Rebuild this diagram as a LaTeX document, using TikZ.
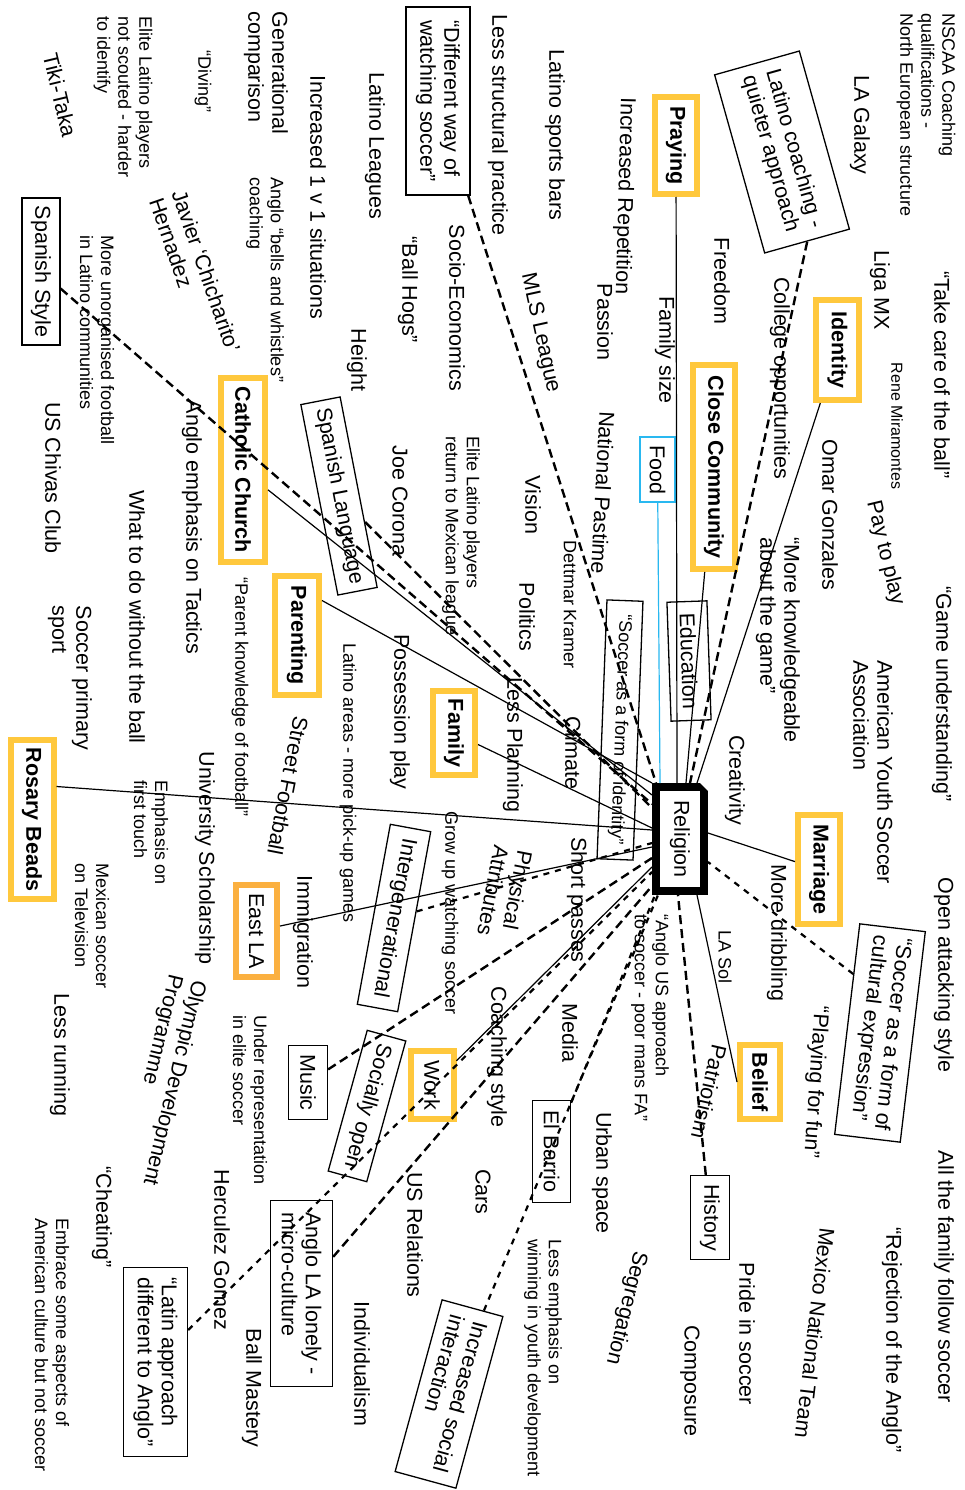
\documentclass[tikz,border=0pt]{standalone}
\usepackage{fontspec}
\setmainfont{Liberation Sans}
\usetikzlibrary{calc,shapes.misc}
\definecolor{ybox}{HTML}{FFC83D}
\definecolor{obox}{HTML}{FBB040}
\definecolor{cbox}{HTML}{29B8F0}
\begin{document}
\begin{tikzpicture}[x=1pt,y=-1pt,
  every node/.style={inner sep=0pt, align=left},
  fb/.style={font=\fontsize{21.5}{24}\selectfont},
  fm/.style={font=\fontsize{18}{21}\selectfont},
  fs/.style={font=\fontsize{16}{19}\selectfont},
  tb/.style={fb, rotate=-90},
  tm/.style={fm, rotate=-90},
  ts/.style={fs, rotate=-90},
  bx/.style={draw, line width=1.3pt, align=left},
  yb/.style={draw=ybox, line width=6pt, rotate=-90, font=\bfseries\fontsize{21.5}{24}\selectfont},
  ybr/.style={draw=ybox, line width=6pt, rotate=-90, font=\fontsize{21.5}{24}\selectfont},
  ob/.style={draw=obox, line width=6pt, rotate=-90, font=\fontsize{21.5}{24}\selectfont},
  cb/.style={draw=cbox, line width=1.3pt, rotate=-90, font=\fontsize{21.5}{24}\selectfont},
  sl/.style={line width=1.2pt},
  ds/.style={line width=2.4pt, dash pattern=on 9pt off 5pt},
  df/.style={line width=2.2pt, dash pattern=on 6pt off 6pt}]
\fill[white] (0,0) rectangle (964,1490);
\useasboundingbox (0,0) rectangle (964,1490);

% right column
\node[tm] (nscaa) at (926,115) {NSCAA Coaching\\qualifications -\\North European structure};
\node[tb] (takecare) at (942,375) {“Take care of the ball”};
\node[tb] (gameund) at (942,694) {“Game understanding”};
\node[tb] (openatt) at (944,975) {Open attacking style};
\node[tb] (allfam) at (944,1277) {All the family follow soccer};
\node[tb] (rejection) at (892,1340) {“Rejection of the Anglo”};
\node[tb] (lagalaxy) at (860,125) {LA Galaxy};
\node[bx, fb, rotate=-74.3, minimum width=185pt, minimum height=88pt] (latinocoach) at (782,152) {Latino coaching -\\quieter approach};
\node[tb] (ligamx) at (880,290) {Liga MX};
\node[yb, minimum width=100pt, minimum height=43pt] (identity) at (837.5,350) {Identity};
\node[ts] (rene) at (897,426) {Rene Miramontes};
\node[fb, rotate=-76.5] (paytoplay) at (885,553) {Pay to play};
\node[tb] (omar) at (830,515) {Omar Gonzales};
\node[tb] (moreknow) at (778,640) {“More knowledgeable\\about the game”};
\node[tb] (ayso) at (873,772) {American Youth Soccer\\Association};
\node[tb] (creativity) at (735,780) {Creativity};
\node[yb, minimum width=109pt, minimum height=42pt] (marriage) at (819,869.5) {Marriage};
\node[tb] (moredrib) at (777,933) {More dribbling};
\node[bx, fb, rotate=-96.8, minimum width=212pt, minimum height=66pt] (cultexp) at (880,1033) {“Soccer as a form of\\cultural expression”};
\node[fb, rotate=-93.8] (playfun) at (815,1082) {“Playing for fun”};
\node[fb, rotate=-96.8] (mexnat) at (815,1333) {Mexico National Team};
\node[tb] (pride) at (747,1334) {Pride in soccer};
\node[tb] (composure) at (690,1381) {Composure};
\node[bx, tb, minimum width=84pt, minimum height=39pt] (history) at (710,1217.5) {History};
\node[yb, minimum width=74pt, minimum height=40pt] (belief) at (760,1082) {Belief};
\node[tm] (lasol) at (725,957) {LA Sol};
\node[fb, rotate=-103] (patriotism) at (709,1092) {Patriotism};
\node[tm] (angloUS) at (650,1018) {“Anglo US approach\\to soccer - poor mans FA”};

% centre
\node[draw, line width=8pt, minimum width=48pt, minimum height=104pt] (religion) at (680,839) {};
\fill[white] ($(religion.north east)+(0.5,-0.5)$) -- ++(-9,0) -- ++(9,9) -- cycle;
\node[tb] (religiontext) at (religion) {Religion};

% lower middle
\node[tb] (urban) at (602,1173) {Urban space};
\node[fb, rotate=-103.8] (segreg) at (626,1308) {Segregation};
\node[tm] (lessemph) at (543,1358) {Less emphasis on\\winning in youth development};
\node[bx, tb, minimum width=102pt, minimum height=38pt] (elbarrio) at (551.5,1151.5) {El Barrio};
\node[tb] (media) at (570,1033) {Media};
\node[tb] (cars) at (483,1192) {Cars};
\node[tb] (usrel) at (415,1235) {US Relations};
\node[tb] (indiv) at (362,1364) {Individualism};
\node[bx, fb, rotate=-105.3, minimum width=178pt, minimum height=63pt] (incsocial) at (449,1394) {Increased social\\interaction};
\node[bx, tb, minimum width=186pt, minimum height=62pt] (anglola) at (301.5,1293.5) {Anglo LA lonely -\\micro-culture};
\node[tb] (ballmast) at (252,1388) {Ball Mastery};
\node[tb] (herculez) at (222,1250) {Herculez Gomez};
\node[bx, tb, minimum width=189pt, minimum height=64pt] (latinapp) at (155.5,1362) {“Latin approach\\different to Anglo”};
\node[tb] (cheating) at (102,1217) {“Cheating”};
\node[tm] (embrace) at (52,1345) {Embrace some aspects of\\American culture but not soccer};
\node[tb] (lessrun) at (60,1055) {Less running};
\node[tm] (mextv) at (92,926) {Mexican soccer\\on Television};
\node[tm] (firsttouch) at (151,833) {Emphasis on\\first touch};
\node[yb, minimum width=159pt, minimum height=43pt] (rosary) at (32,819.5) {Rosary Beads};
\node[tb] (unischol) at (205,858) {University Scholarship};
\node[fb, rotate=-103.5] (olympic) at (162,1080) {Olympic Development\\Programme};
\node[tm] (underrep) at (250,1100) {Under representation\\in elite soccer};
\node[bx, tb, minimum width=74pt, minimum height=39pt] (music) at (308,1082.5) {Music};
\node[ob, minimum width=92pt, minimum height=41pt] (eastla) at (256.5,931) {East LA};
\node[tb] (immig) at (303,932) {Immigration};
\node[fb, rotate=-101] (streetfb) at (288,786) {Street Football};
\node[tm] (latareas) at (348,783) {Latino areas - more pick-up games};
\node[tb] (possession) at (400,712) {Possession play};
\node[bx, fb, rotate=-100.4, minimum width=183pt, minimum height=41pt] (interg) at (394,918) {Intergenerational};
\node[tm] (growup) at (450,913) {Grow up watching soccer};
\node[fb, rotate=-101] (physattr) at (505,893) {Physical\\Attributes};
\node[tb] (shortpass) at (577,900) {Short passes};
\node[tb] (coachstyle) at (497,1057) {Coaching style};
\node[ybr, minimum width=68pt, minimum height=43pt] (work) at (432,1085) {Work};
\node[bx, fb, rotate=-105.5, minimum width=146pt, minimum height=40pt] (sociallyopen) at (367,1106) {Socially open};
\node[yb, minimum width=84pt, minimum height=42pt] (family) at (454,733) {Family};
\node[tb] (lessplan) at (513,745) {Less Planning};
\node[tb] (climate) at (573,753) {Climate};
\node[tb] (politics) at (527,617) {Politics};
\node[tm] (dettmar) at (570,605) {Dettmar Kramer};
\node[tb] (vision) at (533,505) {Vision};
\node[fb, rotate=-93] (natpast) at (603,493) {National Pastime};
\node[bx, fm, rotate=-92.2, minimum width=259pt, minimum height=36pt] (socid) at (620,730) {“Soccer as a form of identity”};
\node[bx, fb, rotate=-88, minimum width=119pt, minimum height=40pt] (education) at (689,661) {Education};
\node[cb, minimum width=65pt, minimum height=35pt] (food) at (657.5,469.5) {Food};
\node[yb, minimum width=204pt, minimum height=42pt] (closecomm) at (714,467) {Close Community};
\node[tb] (college) at (780,378) {College opportunities};
\node[tb] (freedom) at (722,281) {Freedom};
\node[yb, minimum width=97pt, minimum height=42pt] (praying) at (676,145.5) {Praying};
\node[tb] (famsize) at (665,350) {Family size};

% upper left
\node[fb, rotate=-91.5] (increp) at (624,196) {Increased Repetition};
\node[tb] (passion) at (605,322) {Passion};
\node[tb] (sportsbars) at (555,135) {Latino sports bars};
\node[tb] (lessstruct) at (498,125) {Less structural practice};
\node[bx, tb, minimum width=188pt, minimum height=64pt] (diffway) at (438,101) {“Different way of\\watching soccer”};
\node[tb] (latleagues) at (375,146) {Latino Leagues};
\node[tb] (inc1v1) at (318,197) {Increased 1 v 1 situations};
\node[tb] (socioec) at (457,308) {Socio-Economics};
\node[fb, rotate=-77.7] (mls) at (540,333) {MLS League};
\node[tb] (ballhogs) at (408,290) {“Ball Hogs”};
\node[tb] (height) at (357,360) {Height};
\node[tb] (genera) at (266,73) {Generational\\comparison};
\node[tm] (bells) at (265,280) {Anglo “bells and whistles”\\coaching};
\node[tm] (diving) at (203,82) {“Diving”};
\node[tm] (eliteno) at (123,97) {Elite Latino players\\not scouted - harder\\to identify};
\node[fb, rotate=-76.6] (tiki) at (60,95) {Tiki-Taka};
\node[fb, rotate=-71] (javier) at (195,275) {Javier ‘Chicharito’\\Hernadez};
\node[tm] (moreunorg) at (97,340) {More unorganised football\\in Latino communities};
\node[bx, tb, minimum width=147pt, minimum height=38pt] (spstyle) at (41,271.5) {Spanish Style};
\node[tb] (chivas) at (53,478) {US Chivas Club};
\node[tb] (soccprim) at (70,678) {Soccer primary\\sport};
\node[tb] (whattodo) at (137,617) {What to do without the ball};
\node[tb] (angloemph) at (192,527) {Anglo emphasis on Tactics};
\node[yb, minimum width=184pt, minimum height=44pt] (catholic) at (243,470) {Catholic Church};
\node[tm] (parentknow) at (240,697) {“Parent knowledge of football”};
\node[yb, minimum width=119pt, minimum height=44pt] (parenting) at (297,635.5) {Parenting};
\node[bx, fb, rotate=-79, minimum width=194pt, minimum height=40pt] (splang) at (339,496) {Spanish Language};
\node[tb] (joecorona) at (400,501) {Joe Corona};
\node[tm] (eliteret) at (461,536) {Elite Latino players\\return to Mexican league};

% solid connectors
\draw[sl] (praying) -- ($(religion.north)+(-3,0)$);
\draw[sl] (closecomm) -- ($(religion.north)+(6,0)$);
\draw[sl] (identity) -- ($(religion.north)+(17,0)$);
\draw[sl, draw=cbox] (food) -- ($(religion.north west)+(8,0)$);
\draw[sl] (catholic) -- ($(religion.north west)+(0,12)$);
\draw[sl] ($(parenting.north west)!0.22!(parenting.north east)$) -- (religion.north west);
\draw[sl] ($(rosary.north west)!0.3!(rosary.north east)$) -- ($(religion.west)+(0,-9)$);
\draw[sl] (family) -- ($(religion.west)+(0,-11)$);
\draw[sl] (eastla) -- ($(religion.west)+(0,8)$);
\draw[sl] (work) -- ($(religion.west)+(0,28)$);
\draw[sl] (belief.south) -- ($(religion.south)+(17,0)$);
\draw[sl] (marriage) -- ($(religion.east)+(0,-6)$);

% dashed connectors
\draw[ds] (latinocoach.east) -- ($(religion.north)+(10,0)$);
\draw[ds] (diffway) -- ($(religion.north west)+(4,0)$);
\draw[ds] (spstyle) -- ($(religion.north west)+(0,21)$);
\draw[ds] (splang) -- ($(religion.north west)+(0,25)$);
\draw[df] (interg) -- ($(religion.west)+(0,4)$);
\draw[ds] (music) -- ($(religion.west)+(0,19)$);
\draw[df] (latinapp) -- ($(religion.west)+(0,33)$);
\draw[ds] (anglola) -- ($(religion.west)+(0,47)$);
\draw[df] (elbarrio) -- ($(religion.south west)+(3,0)$);
\draw[df] (incsocial) -- ($(religion.south west)+(6,0)$);
\draw[ds] (history) -- ($(religion.south)+(-2,0)$);
\draw[df] ($(cultexp.south west)!0.24!(cultexp.south east)$) -- ($(religion.east)+(0,23)$);
\end{tikzpicture}
\end{document}
